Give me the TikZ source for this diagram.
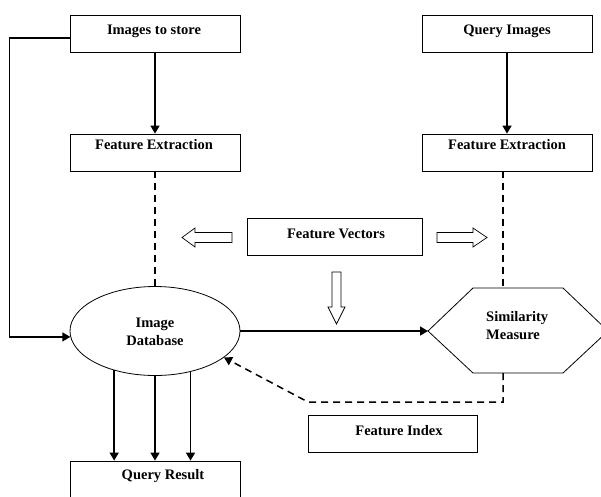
\documentclass[tikz,border=0pt]{standalone}
\usepackage{fontspec}
\setmainfont{Liberation Serif}
\usetikzlibrary{arrows.meta,shapes.geometric}
\begin{document}
\begin{tikzpicture}[x=1pt,y=-1pt,
  box/.style={draw,line width=0.8pt,minimum width=170pt,minimum height=37pt,inner sep=0pt},
  lbl/.style={font=\fontsize{14.5}{18}\selectfont\bfseries,inner sep=0pt,align=center},
  arr/.style={line width=1.6pt,-{Triangle[length=8pt,width=9pt]}},
  dsh/.style={line width=1.5pt,dash pattern=on 7pt off 5pt},
  hollow/.style={draw,line width=0.7pt,fill=white}]
\useasboundingbox (0,0) rectangle (601,496);
\clip (0,0) rectangle (601,496);

% boxes
\node[box] (store) at (155,33.5) {};
\node[lbl] (storeT) at (154,31) {Images to store};
\node[box] (query) at (507.5,33.5) {};
\node[lbl] (queryT) at (507,31) {Query Images};
\node[box] (fel) at (155,152.5) {};
\node[lbl] (felT) at (154,145) {Feature Extraction};
\node[box] (fer) at (507.5,152.5) {};
\node[lbl] (ferT) at (507,145) {Feature Extraction};
\node[box,minimum width=175pt] (fv) at (334.5,236.5) {};
\node[lbl] (fvT) at (336,234) {Feature Vectors};
\node[box,minimum width=169pt] (fi) at (392.5,433.5) {};
\node[lbl] (fiT) at (399,431) {Feature Index};
\node[box] (qr) at (155,479.5) {};
\node[lbl] (qrT) at (163,476) {Query Result};

% ellipse
\node[draw,ellipse,line width=0.8pt,minimum width=170pt,minimum height=89pt,inner sep=0pt] (db) at (155,331) {};
\node[lbl] (dbT) at (155,332) {Image\\Database};

% hexagon
\coordinate (hW) at (428,331);
\coordinate (hNW) at (473,288);
\coordinate (hNE) at (563,288);
\coordinate (hE) at (608,331);
\coordinate (hSE) at (563,373);
\coordinate (hSW) at (473,373);
\draw[line width=0.8pt] (hW) -- (hNW) -- (hNE) -- (hE) -- (hSE) -- (hSW) -- cycle;
\node[lbl,align=left,anchor=west] (simT) at (486,326) {Similarity\\Measure};
\coordinate (hTop) at (503,288);
\coordinate (hBot) at (503,373);

% solid arrows
\draw[arr] (store.south) -- (fel.north);
\draw[arr] (query.south -| queryT) -- (fer.north -| queryT);
\draw[arr] (db.east) -- (hW);
\draw[line width=1.3pt,-{Triangle[length=8pt,width=9pt]}] ([yshift=-4.5pt]store.west) -- ++(-60,0) |- (db.184);
\draw[arr] (db.-136) -- (db.-136 |- qr.north);
\draw[arr] (db.south) -- (qr.north);
\draw[arr] (db.-49) -- (db.-49 |- qr.north);

% dashed
\draw[dsh] (fel.south) -- (db.north);
\draw[dsh] (fer.south -| hTop) -- (hTop);
\coordinate (c1) at (503,402);
\coordinate (c2) at (308,402);
\draw[dsh,-{Triangle[length=8pt,width=9pt]}] (hBot) -- (c1) -- (c2) -- (db.-21);

% hollow arrows
\draw[hollow] (182,237.5) -- (195,228) -- (195,232.5) -- (232,232.5) -- (232,242.5) -- (195,242.5) -- (195,247) -- cycle;
\draw[hollow] (487,237.5) -- (473,228) -- (473,232.5) -- (437,232.5) -- (437,242.5) -- (473,242.5) -- (473,247) -- cycle;
\draw[hollow] (336.5,324) -- (328,307) -- (332,307) -- (332,272) -- (341,272) -- (341,307) -- (345,307) -- cycle;
\end{tikzpicture}
\end{document}
